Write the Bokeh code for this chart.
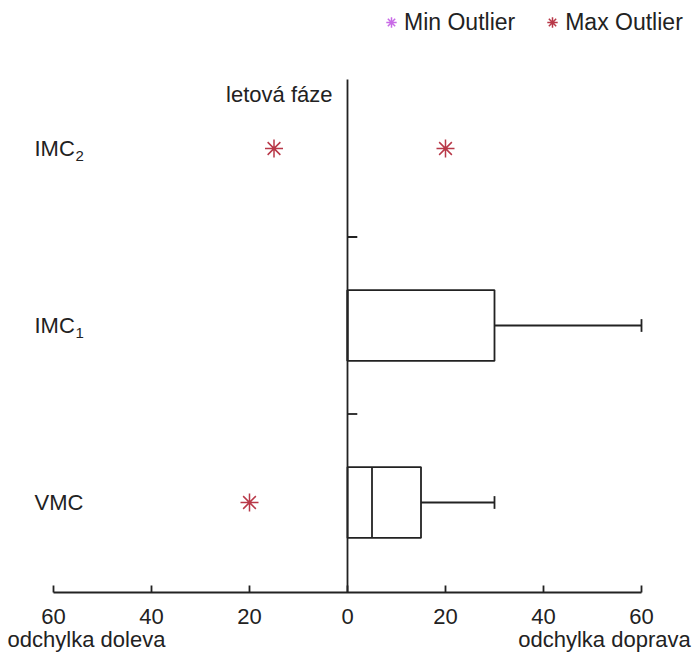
from bokeh.plotting import figure
from bokeh.models import (Range1d, LinearAxis, FixedTicker, Label, Legend, LegendItem,
                          ColumnDataSource)
from bokeh.core.properties import value
from bokeh.embed import file_html
from bokeh.resources import INLINE

# ---- data ----
categories = ["VMC", "IMC", "IMC"]
subscripts = ["", "1", "2"]
lower_whisker = [0, 0, 0]
q1 = [0, 0, 0]
median = [5, 0, 0]
q3 = [15, 30, 0]
upper_whisker = [30, 60, 0]
max_outlier_cat = [0, 2, 2]
max_outlier_val = [-20, -15, 20]
min_outlier_cat = []
min_outlier_val = []
tick_values = [-60, -40, -20, 0, 20, 40, 60]
tick_labels = ["60", "40", "20", "0", "20", "40", "60"]
y_title = "letová fáze"
x_title_left = "odchylka doleva"
x_title_right = "odchylka doprava"

FONT = "Liberation Sans"
TXT = "#222222"
LINE = "#222222"
MAXC = "#b83848"
MINC = "#c86ae6"
LW = 1.8

W, H = 695, 657
BOTTOM = 65
# pixel geometry -> data ranges
PX_PER_X = 588 / 120.0
x0 = -60 - 53 / PX_PER_X
x1 = x0 + W / PX_PER_X
PX_PER_Y = 177.0
y0 = -(592 - 502) / PX_PER_Y
y1 = 502 / PX_PER_Y

def px2x(px):
    return x0 + px / PX_PER_X

def px2y(py):
    return (502 - py) / PX_PER_Y

p = figure(width=W, height=H, x_range=Range1d(x0, x1), y_range=Range1d(y0, y1),
           output_backend="svg", toolbar_location=None,
           x_axis_type=None, y_axis_type=None,
           min_border_left=0, min_border_right=0, min_border_top=0,
           min_border_bottom=BOTTOM)
p.outline_line_color = None
p.background_fill_color = "white"
p.border_fill_color = "white"

ypos = list(range(len(categories)))

# bottom axis
ax = LinearAxis(ticker=FixedTicker(ticks=tick_values), bounds=(-60, 60))
ax.major_label_overrides = {v: l for v, l in zip(tick_values, tick_labels)}
ax.major_tick_in = 7
ax.major_tick_out = 0
ax.minor_tick_line_color = None
ax.axis_line_color = LINE
ax.axis_line_width = LW
ax.major_tick_line_color = LINE
ax.major_tick_line_width = LW
ax.major_label_standoff = 16
ax.major_label_text_font = FONT
ax.major_label_text_font_size = "22px"
ax.major_label_text_color = TXT
p.add_layout(ax, "below")

# second (label-only) axis carrying the two x titles
title_pos = [px2x(86), px2x(604)]
ax2 = LinearAxis(ticker=FixedTicker(ticks=title_pos))
ax2.major_label_overrides = {title_pos[0]: x_title_left, title_pos[1]: x_title_right}
ax2.axis_line_color = None
ax2.major_tick_line_color = None
ax2.minor_tick_line_color = None
ax2.major_tick_in = 0
ax2.major_tick_out = 0
ax2.major_label_standoff = 0
ax2.major_label_text_font = FONT
ax2.major_label_text_font_size = "22px"
ax2.major_label_text_color = TXT
p.add_layout(ax2, "below")

# central vertical line (x = 0) with category separators
p.segment(x0=[0], y0=[y0], x1=[0], y1=[2.39], line_color=LINE, line_width=LW)
sep = [i + 0.5 for i in range(len(categories) - 1)]
p.segment(x0=[0] * len(sep), y0=sep, x1=[2] * len(sep), y1=sep,
          line_color=LINE, line_width=LW)

# boxes (only where the box has width)
bi = [i for i in ypos if q3[i] > q1[i]]
BOX_H = 0.4
CAP_H = 0.072
src = ColumnDataSource(dict(y=bi, q1=[q1[i] for i in bi], q3=[q3[i] for i in bi],
                            med=[median[i] for i in bi],
                            my0=[i - BOX_H / 2 for i in bi],
                            my1=[i + BOX_H / 2 for i in bi]))
p.hbar(y="y", left="q1", right="q3", height=BOX_H, source=src,
       fill_color=None, line_color=LINE, line_width=LW)
p.segment(x0="med", y0="my0", x1="med", y1="my1", source=src,
          line_color=LINE, line_width=LW)
# upper whiskers
uw_idx = [i for i in ypos if upper_whisker[i] > q3[i]]
p.segment(x0=[q3[i] for i in uw_idx], y0=uw_idx, x1=[upper_whisker[i] for i in uw_idx],
          y1=uw_idx, line_color=LINE, line_width=LW)
p.segment(x0=[upper_whisker[i] for i in uw_idx], y0=[i - CAP_H / 2 for i in uw_idx],
          x1=[upper_whisker[i] for i in uw_idx], y1=[i + CAP_H / 2 for i in uw_idx],
          line_color=LINE, line_width=LW)
# lower whiskers (none visible in this chart: all equal to q1)
lw_idx = [i for i in ypos if lower_whisker[i] < q1[i]]
if lw_idx:
    p.segment(x0=[lower_whisker[i] for i in lw_idx], y0=lw_idx,
              x1=[q1[i] for i in lw_idx], y1=lw_idx, line_color=LINE, line_width=LW)

# outliers
nan = float("nan")
r_min = p.scatter(x=min_outlier_val or [nan], y=min_outlier_cat or [nan],
                  marker="asterisk", size=18, line_color=MINC, line_width=1.5)
r_max = p.scatter(x=max_outlier_val, y=max_outlier_cat, marker="asterisk", size=18,
                  line_color=MAXC, line_width=1.5)

# category labels
lx = px2x(34)
p.text(x=[lx] * len(categories), y=ypos, text=categories, text_font=value(FONT),
       text_font_size="22px", text_color=TXT, text_baseline="middle", text_align="left")
sub_idx = [i for i in ypos if subscripts[i]]
p.text(x=[lx] * len(sub_idx), y=sub_idx, text=[subscripts[i] for i in sub_idx],
       x_offset=41, y_offset=7, text_font=value(FONT), text_font_size="15px",
       text_color=TXT, text_baseline="middle", text_align="left")

# y title
p.add_layout(Label(x=px2x(332), y=px2y(94), text=y_title, text_align="right",
                   text_baseline="middle", text_font=FONT, text_font_size="22px",
                   text_color=TXT))

legend = Legend(items=[LegendItem(label="Min Outlier", renderers=[r_min]),
                       LegendItem(label="Max Outlier", renderers=[r_max])],
                orientation="horizontal", location=(378, 554))
legend.border_line_color = None
legend.background_fill_alpha = 0
legend.padding = 0
legend.margin = 0
legend.spacing = 24
legend.glyph_width = 26
legend.glyph_height = 32
legend.label_standoff = 0
legend.label_text_font = FONT
legend.label_text_font_size = "23px"
legend.label_text_color = TXT
p.add_layout(legend)

open("out.html", "w").write(file_html(p, INLINE))
